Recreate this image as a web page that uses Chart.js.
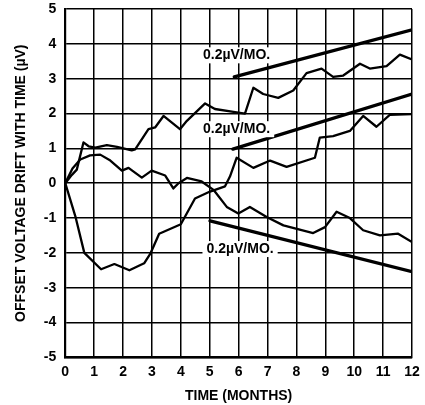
<!DOCTYPE html>
<html>
<head>
<meta charset="utf-8">
<script src="https://cdn.jsdelivr.net/npm/chart.js@4"></script>
<style>
  body { margin: 0; background: #fff; }
</style>
</head>
<body>
<canvas id="chart" width="425" height="405"></canvas>
<script>
// Offset voltage drift over a year, three units plus 0.2uV/month reference slopes

const upperX = [0, 0.23, 0.40, 0.63, 0.81, 1.04, 1.44, 1.79, 2.30, 2.42, 2.88, 3.11, 3.40, 3.97, 4.21, 4.84, 5.18, 5.82, 6.22, 6.51, 6.85, 7.37, 7.89, 8.35, 8.87, 9.27, 9.62, 10.2, 10.54, 11.12, 11.58, 12];
const upperY = [0, 0.24, 0.39, 1.17, 1.06, 1.02, 1.09, 1.04, 0.94, 0.97, 1.55, 1.60, 1.93, 1.55, 1.79, 2.29, 2.13, 2.05, 2.00, 2.74, 2.56, 2.45, 2.66, 3.16, 3.29, 3.05, 3.09, 3.43, 3.29, 3.36, 3.69, 3.55];

const middleX = [0, 0.35, 0.66, 1.24, 1.70, 2.22, 2.73, 2.94, 3.25, 4.0, 4.49, 5.01, 5.53, 5.70, 5.93, 6.51, 7.09, 7.66, 8.64, 8.81, 9.27, 9.85, 10.31, 10.77, 11.23, 12];
const middleY = [0, -0.95, -2.0, -2.47, -2.32, -2.50, -2.30, -2.03, -1.45, -1.18, -0.44, -0.24, -0.09, 0.19, 0.73, 0.44, 0.65, 0.47, 0.73, 1.31, 1.35, 1.50, 1.93, 1.62, 1.96, 1.98];

const lowerX = [0, 0.25, 0.52, 0.86, 1.21, 1.56, 1.96, 2.19, 2.65, 2.99, 3.46, 3.74, 3.92, 4.21, 4.72, 5.13, 5.59, 5.99, 6.39, 6.97, 7.55, 8.58, 8.99, 9.39, 9.85, 10.31, 10.89, 11.52, 12];
const lowerY = [0, 0.42, 0.68, 0.80, 0.82, 0.65, 0.36, 0.44, 0.16, 0.36, 0.22, -0.15, 0.0, 0.15, 0.05, -0.19, -0.68, -0.87, -0.68, -0.97, -1.21, -1.43, -1.26, -0.82, -1.0, -1.35, -1.50, -1.45, -1.69];

// reference slope lines (start / end)
const slopeAX = [5.85, 12];
const slopeAY = [3.05, 4.40];
const slopeBX = [5.80, 12];
const slopeBY = [0.98, 2.56];
const slopeCX = [5.01, 12];
const slopeCY = [-1.08, -2.54];

const slopeLabel = '0.2\u00B5V/MO.';
const slopeLabelX = [5.93, 5.93, 6.05];
const slopeLabelY = [3.67, 1.55, -1.89];

const FONT = '"Liberation Sans", Arial, Helvetica, sans-serif';

function toPoints(xs, ys) {
    return xs.map((x, i) => ({ x: x, y: ys[i] }));
}

function lineSet(xs, ys, width) {
    return {
        data: toPoints(xs, ys),
        showLine: true,
        borderColor: '#000',
        borderWidth: width,
        pointRadius: 0,
        tension: 0,
        borderJoinStyle: 'round',
        borderCapStyle: 'round'
    };
}

const slopeLabels = {
    id: 'slopeLabels',
    afterDraw(chart) {
        const ctx = chart.ctx;
        const xs = chart.scales.x;
        const ys = chart.scales.y;
        ctx.save();
        ctx.font = 'bold 14px ' + FONT;
        ctx.textAlign = 'center';
        ctx.textBaseline = 'middle';
        slopeLabelX.forEach((v, i) => {
            const px = xs.getPixelForValue(v);
            const py = ys.getPixelForValue(slopeLabelY[i]);
            const w = ctx.measureText(slopeLabel).width + 8;
            ctx.fillStyle = '#fff';
            ctx.fillRect(px - w / 2, py - 8, w, 16);
            ctx.fillStyle = '#000';
            ctx.fillText(slopeLabel, px, py);
        });
        ctx.restore();
    }
};

new Chart(document.getElementById('chart'), {
    type: 'scatter',
    data: {
        datasets: [
            lineSet(upperX, upperY, 2.3),
            lineSet(middleX, middleY, 2.3),
            lineSet(lowerX, lowerY, 2.3),
            lineSet(slopeAX, slopeAY, 3.3),
            lineSet(slopeBX, slopeBY, 3.3),
            lineSet(slopeCX, slopeCY, 3.3)
        ]
    },
    options: {
        responsive: false,
        animation: false,
        devicePixelRatio: 1,
        layout: { padding: { top: 0, right: 13, bottom: 0, left: 13 } },
        plugins: {
            legend: { display: false },
            tooltip: { enabled: false }
        },
        scales: {
            x: {
                type: 'linear',
                min: 0,
                max: 12,
                afterFit: (scale) => { scale.paddingRight = 13; },
                ticks: { stepSize: 1, color: '#000', padding: 6, font: { family: FONT, size: 14, weight: 'bold' } },
                grid: { color: '#000', lineWidth: 1.5, drawTicks: false },
                border: { color: '#000', width: 2.2 },
                title: {
                    display: true,
                    text: 'TIME (MONTHS)',
                    color: '#000',
                    font: { family: FONT, size: 14, weight: 'bold' },
                    padding: { top: 2, bottom: 0 }
                }
            },
            y: {
                min: -5,
                max: 5,
                // keep the top "5" label from pushing the plot down too far
                afterFit: (scale) => { scale.paddingTop = 9; },
                ticks: { stepSize: 1, color: '#000', padding: 9, font: { family: FONT, size: 14, weight: 'bold' } },
                grid: { color: '#000', lineWidth: 1.5, drawTicks: false },
                border: { color: '#000', width: 2.2 },
                title: {
                    display: true,
                    text: 'OFFSET VOLTAGE DRIFT WITH TIME (\u00B5V)',
                    color: '#000',
                    font: { family: FONT, size: 14, weight: 'bold' },
                    padding: { top: 0, bottom: 5 }
                }
            }
        }
    },
    plugins: [slopeLabels]
});
</script>
</body>
</html>
